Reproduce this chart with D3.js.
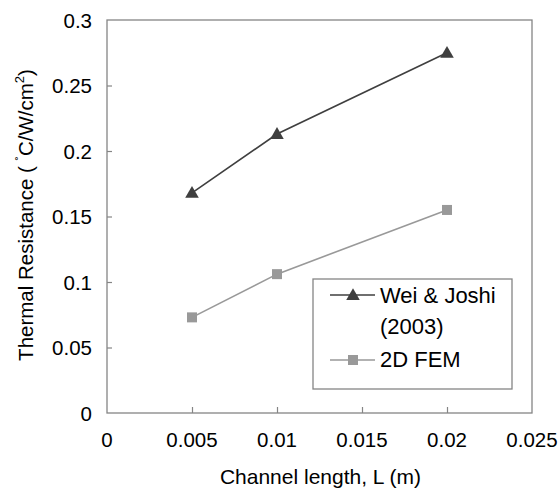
<!DOCTYPE html>
<html>
<head>
<meta charset="utf-8">
<script src="https://cdn.jsdelivr.net/npm/d3@7"></script>
<style>
  html, body { margin: 0; padding: 0; background: #fff; }
  svg text { font-family: "Liberation Sans", Arial, sans-serif; fill: #000; }
</style>
</head>
<body>
<svg id="chart" width="559" height="492"></svg>
<script>
// Channel lengths (m)
const lengths = [0.005, 0.01, 0.02];
// Thermal resistance, °C/W/cm²
const weiJoshi = [0.168, 0.213, 0.275];
const fem2d = [0.073, 0.106, 0.155];
const xTicks = [0, 0.005, 0.01, 0.015, 0.02, 0.025];
const yTicks = [0, 0.05, 0.1, 0.15, 0.2, 0.25, 0.3];
const seriesNames = ["Wei & Joshi", "(2003)", "2D FEM"];

const svg = d3.select("#chart");
const plotL = 107, plotR = 532, plotT = 20, plotB = 413;

const x = d3.scaleLinear().domain([0, 0.025]).range([plotL, plotR]);
const y = d3.scaleLinear().domain([0, 0.3]).range([plotB, plotT]);

const axisColor = "#858585";

// plot frame
svg.append("rect")
  .attr("x", plotL).attr("y", plotT)
  .attr("width", plotR - plotL).attr("height", plotB - plotT)
  .attr("fill", "none").attr("stroke", axisColor).attr("stroke-width", 1.3);

// x axis: inward ticks, labels below
const xAxis = svg.append("g").attr("transform", `translate(0,${plotB})`)
  .call(d3.axisTop(x).tickValues(xTicks).tickSize(6).tickFormat(""));
xAxis.select(".domain").remove();
xAxis.selectAll(".tick line").attr("stroke", axisColor).attr("stroke-width", 1.2);
xAxis.selectAll(".tick").filter(d => d === 0 || d === 0.025).select("line").remove();

svg.append("g").selectAll("text").data(xTicks).join("text")
  .attr("x", d => x(d)).attr("y", 447)
  .attr("text-anchor", "middle").attr("font-size", 20.5)
  .text(d => d3.format("")(d));

// y axis: inward ticks, labels left
const yAxis = svg.append("g").attr("transform", `translate(${plotL},0)`)
  .call(d3.axisRight(y).tickValues(yTicks).tickSize(5).tickFormat(""));
yAxis.select(".domain").remove();
yAxis.selectAll(".tick line").attr("stroke", axisColor).attr("stroke-width", 1.2);
yAxis.selectAll(".tick").filter(d => d === 0 || d === 0.3).select("line").remove();

svg.append("g").selectAll("text").data(yTicks).join("text")
  .attr("x", 92).attr("y", d => y(d) + 7.5)
  .attr("text-anchor", "end").attr("font-size", 20.5)
  .text(d => d3.format("")(d));

// axis titles
svg.append("text")
  .attr("x", (plotL + plotR) / 2 + 1).attr("y", 484)
  .attr("text-anchor", "middle").attr("font-size", 21)
  .text("Channel length, L (m)");

const yt = svg.append("text")
  .attr("transform", "translate(33,215) rotate(-90)")
  .attr("text-anchor", "middle").attr("font-size", 20.5);
yt.append("tspan").text("Thermal Resistance ( ");
yt.append("tspan").attr("font-size", 13).attr("dy", -8).text("˚");
yt.append("tspan").attr("dy", 8).text("C/W/cm");
yt.append("tspan").attr("font-size", 13).attr("dy", -9).text("2");
yt.append("tspan").attr("dy", 9).text(")");

// series
const line = d3.line().x(d => x(d[0])).y(d => y(d[1]));
const darkCol = "#3f3f3f", lightCol = "#999999";
const tri = d3.symbol().type(d3.symbolTriangle).size(80);

const wj = lengths.map((l, i) => [l, weiJoshi[i]]);
const fe = lengths.map((l, i) => [l, fem2d[i]]);

svg.append("path").datum(wj).attr("d", line)
  .attr("fill", "none").attr("stroke", darkCol).attr("stroke-width", 1.6);
svg.append("g").selectAll("path").data(wj).join("path")
  .attr("d", tri)
  .attr("transform", d => `translate(${x(d[0])},${y(d[1]) + 1})`)
  .attr("fill", darkCol);

svg.append("path").datum(fe).attr("d", line)
  .attr("fill", "none").attr("stroke", lightCol).attr("stroke-width", 1.6);
svg.append("g").selectAll("rect").data(fe).join("rect")
  .attr("x", d => x(d[0]) - 5).attr("y", d => y(d[1]) - 5)
  .attr("width", 10).attr("height", 10)
  .attr("fill", lightCol);

// legend
const lg = svg.append("g");
lg.append("rect")
  .attr("x", 313).attr("y", 279).attr("width", 199).attr("height", 110)
  .attr("fill", "#fff").attr("stroke", axisColor).attr("stroke-width", 1.3);
lg.append("line").attr("x1", 330).attr("x2", 375).attr("y1", 295).attr("y2", 295)
  .attr("stroke", darkCol).attr("stroke-width", 1.6);
lg.append("path").attr("d", tri).attr("transform", "translate(353,296)").attr("fill", darkCol);
lg.append("line").attr("x1", 330).attr("x2", 375).attr("y1", 360).attr("y2", 360)
  .attr("stroke", lightCol).attr("stroke-width", 1.6);
lg.append("rect").attr("x", 348).attr("y", 355).attr("width", 10).attr("height", 10).attr("fill", lightCol);
lg.selectAll("text").data(seriesNames).join("text")
  .attr("x", 380).attr("y", (d, i) => [303, 334, 367][i])
  .attr("font-size", 22)
  .text(d => d);
</script>
</body>
</html>
